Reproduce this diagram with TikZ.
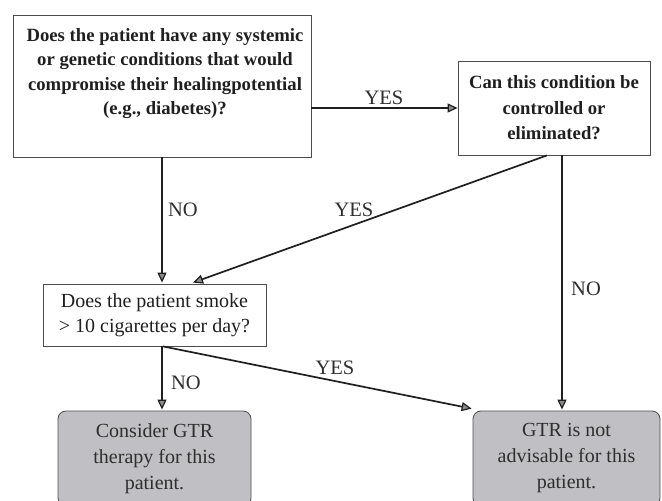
\documentclass[tikz,border=0pt]{standalone}
\usepackage{fontspec}
\setmainfont{Liberation Serif}
\usetikzlibrary{arrows.meta,calc}
\definecolor{boxgray}{RGB}{192,192,196}
\begin{document}
\begin{tikzpicture}[x=1pt,y=-1pt,
  qbox/.style={draw=black!70,line width=0.8pt,inner sep=0pt,align=center,text=black!88},
  qtext/.style={inner sep=0pt,align=center,text=black!88,font=\bfseries\fontsize{18.7}{24.3}\selectfont},
  endbox/.style={draw=black!70,line width=0.8pt,fill=boxgray,rounded corners=8pt,inner sep=0pt,align=center,text=black!82,font=\fontsize{20}{26}\selectfont},
  conn/.style={line width=1.7pt,draw=black!88,-{Triangle[length=10pt,width=9pt,line width=1.2pt,fill=black!45]}},
  lbl/.style={font=\fontsize{20.5}{20.5}\selectfont,text=black!82,inner sep=0pt}]
\useasboundingbox (0,0) rectangle (662,501);
\clip (0,0) rectangle (662,501);
\node[qbox,minimum width=298pt,minimum height=142pt] (A) at (162,86) {};
\node[qtext] (At) at (165,73.5) {Does the patient have any systemic\\or genetic conditions that would\\compromise their healingpotential\\(e.g., diabetes)?};
\node[qbox,minimum width=192pt,minimum height=94pt,font=\bfseries\fontsize{18.7}{25.5}\selectfont] (B) at (554,108) {Can this condition be\\controlled or\\eliminated?};
\node[qbox,minimum width=223pt,minimum height=62pt,font=\fontsize{20}{25}\selectfont] (C) at (154.5,315) {Does the patient smoke\\> 10 cigarettes per day?};
\node[endbox,minimum width=193pt,minimum height=95pt] (D) at (154.5,458.5) {Consider GTR\\therapy for this\\patient.};
\node[endbox,minimum width=187pt,minimum height=95pt] (E) at (566.5,458.5) {GTR is not\\advisable for this\\patient.};
\coordinate (b1) at ($(B.south)+(8,0)$);
\coordinate (b2) at ($(B.south)+(-7,0)$);
\coordinate (c1) at ($(C.south)+(7.5,0)$);
\coordinate (c2) at ($(C.south)+(8.5,0)$);
\draw[conn] (A.south) -- ($(A.south |- C.north)+(0,-1)$);
\draw[conn] (B.west -| A.east) -- (B.west);
\draw[conn] (b2) -- ($(C.north)+(38.5,-1)$);
\draw[conn] (b1) -- ($(b1 |- E.north)+(0,-1)$);
\draw[conn] (c1) -- ($(c1 |- D.north)+(0,-1)$);
\draw[conn] (c2) -- ($(E.north west)+(-1,-2)$);
\node[lbl] (l1) at (384,98) {YES};
\node[lbl] (l2) at (183,210) {NO};
\node[lbl] (l3) at (354,210) {YES};
\node[lbl] (l4) at (586,289) {NO};
\node[lbl] (l5) at (186,383) {NO};
\node[lbl] (l6) at (335,368) {YES};
\end{tikzpicture}
\end{document}
